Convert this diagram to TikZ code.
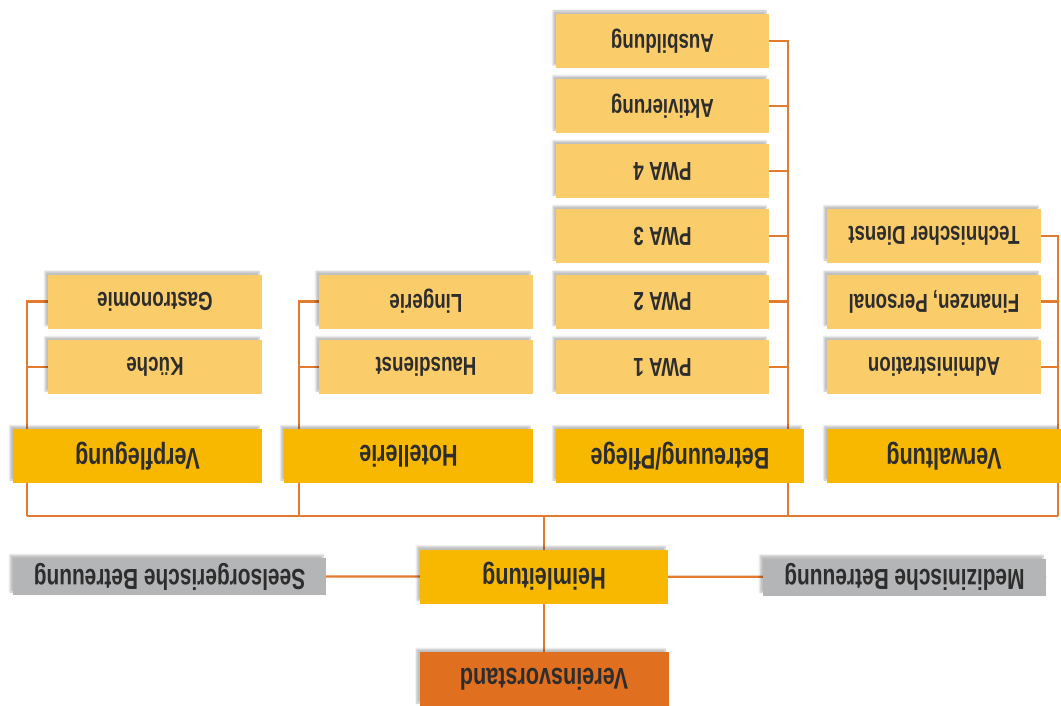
\documentclass[tikz,border=0pt]{standalone}
\usepackage{fontspec}
\newfontfamily\orgfont{Liberation Sans}[FakeStretch=0.72]
\usetikzlibrary{shadows.blur,backgrounds}

\definecolor{leadorange}{RGB}{224,112,32}
\definecolor{mainyellow}{RGB}{248,184,0}
\definecolor{subyellow}{RGB}{251,204,106}
\definecolor{sidegray}{RGB}{180,181,183}
\definecolor{linkorange}{RGB}{226,122,48}
\definecolor{textdark}{RGB}{45,45,45}

\tikzset{
  orgbox/.style={rectangle, inner sep=0pt, rotate=180, text=textdark,
    blur shadow={shadow xshift=-3pt, shadow yshift=3pt, shadow blur steps=6, shadow opacity=25}},
  headbox/.style={orgbox, fill=mainyellow, minimum width=249pt, minimum height=54pt,
    font=\orgfont\bfseries\fontsize{30}{32}\selectfont},
  unitbox/.style={orgbox, fill=subyellow, minimum width=214pt, minimum height=54pt,
    font=\orgfont\bfseries\fontsize{26}{28}\selectfont},
  staffbox/.style={orgbox, fill=sidegray, minimum height=37pt,
    font=\orgfont\bfseries\fontsize{29}{31}\selectfont},
  link/.style={draw=linkorange, line width=2.2pt}
}

\begin{document}
\begin{tikzpicture}[x=1pt,y=-1pt]
\useasboundingbox (0,0) rectangle (1061,706);

% Leitung
\node[headbox, fill=leadorange] (vorstand) at (544,679) {Vereinsvorstand};
\node[headbox, minimum width=248pt] (heim) at (544,576.5) {Heimleitung};
\node[staffbox, minimum width=313pt] (seel) at (169.5,576.5) {Seelsorgerische Betreuung};
\node[staffbox, minimum width=283pt] (med) at (904.5,577) {Medizinische Betreuung};

% Bereiche
\node[headbox] (verpf) at (137.5,456) {Verpflegung};
\node[headbox] (hotel) at (408.5,456) {Hotellerie};
\node[headbox, minimum width=248pt] (betr) at (680,456) {Betreuung/Pflege};
\node[headbox, minimum width=234pt] (verw) at (944,456) {Verwaltung};

% Verpflegung
\node[unitbox] (kueche) at (155,367) {Küche};
\node[unitbox] (gastro) at (155,301.5) {Gastronomie};
% Hotellerie
\node[unitbox] (haus) at (426,367) {Hausdienst};
\node[unitbox] (ling) at (426,301.5) {Lingerie};
% Betreuung/Pflege
\node[unitbox, minimum width=213pt] (pwa1) at (662.5,367) {PWA 1};
\node[unitbox, minimum width=213pt] (pwa2) at (662.5,301.5) {PWA 2};
\node[unitbox, minimum width=213pt] (pwa3) at (662.5,236) {PWA 3};
\node[unitbox, minimum width=213pt] (pwa4) at (662.5,171) {PWA 4};
\node[unitbox, minimum width=213pt] (aktiv) at (662.5,106) {Aktivierung};
\node[unitbox, minimum width=213pt] (ausb) at (662.5,41) {Ausbildung};
% Verwaltung
\node[unitbox] (admin) at (934,367) {Administration};
\node[unitbox] (fin) at (934,301.5) {Finanzen, Personal};
\node[unitbox] (tech) at (934,236) {Technischer Dienst};

% Verbindungen
\coordinate (busL) at (27,516);
\coordinate (busR) at (1058,516);
\coordinate (hotB) at (299,516);
\coordinate (betB) at (788,516);
\coordinate (heimB) at (544,516);

\begin{pgfonlayer}{background}
\draw[link] (vorstand) -- (heimB);
\draw[link] (seel.west) -- (med.west);
\draw[link] (busL) -- (busR);
\draw[link] (busL) |- (gastro.east);
\draw[link] (kueche.east) -- (kueche.east -| busL);
\draw[link] (hotB) |- (ling.east);
\draw[link] (haus.east) -- (haus.east -| hotB);
\draw[link] (betB) |- (ausb.west);
\foreach \u in {pwa1,pwa2,pwa3,pwa4,aktiv}
  \draw[link] (\u.west) -- (\u.west -| betB);
\draw[link] (busR) |- (tech.west);
\foreach \u in {admin,fin}
  \draw[link] (\u.west) -- (\u.west -| busR);
\end{pgfonlayer}
\end{tikzpicture}
\end{document}
